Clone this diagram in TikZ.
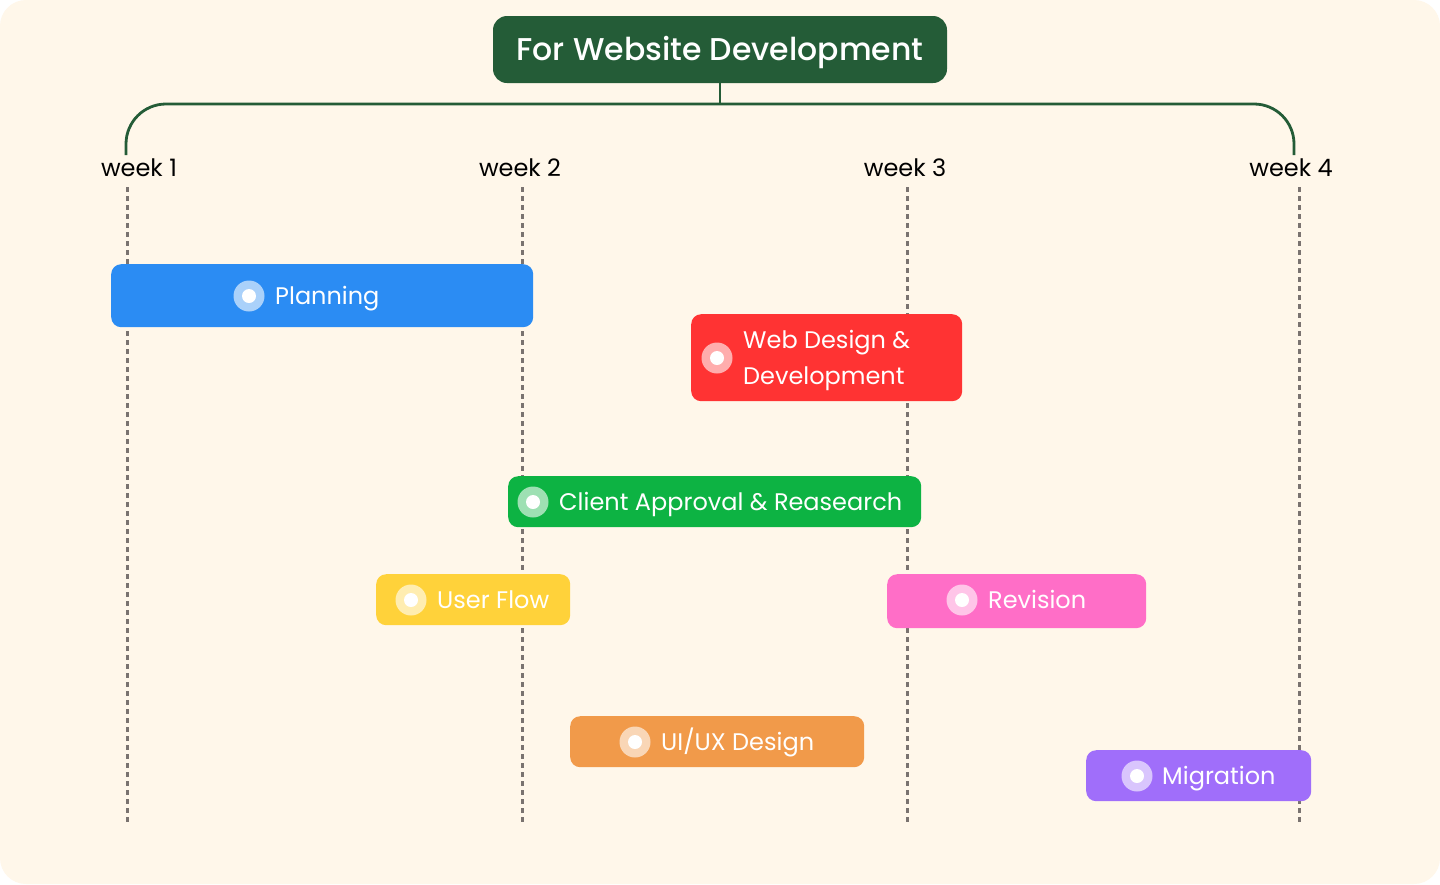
\documentclass[tikz,border=0pt]{standalone}
\usepackage{fontspec}
\setmainfont{Poppins}
\newfontfamily\titlefont{Poppins Medium}
\definecolor{bgc}{HTML}{FFF7EA}
\definecolor{dgreen}{HTML}{245C37}
\definecolor{cblue}{HTML}{2B8CF3}
\definecolor{cred}{HTML}{FF3333}
\definecolor{cgreen}{HTML}{0DB343}
\definecolor{cyellow}{HTML}{FFD23A}
\definecolor{cpink}{HTML}{FF6EC7}
\definecolor{corange}{HTML}{F19A4A}
\definecolor{cpurple}{HTML}{A06EFA}
\definecolor{dotc}{HTML}{7A7370}
\tikzset{
  bar/.style={rounded corners=10pt, inner sep=0pt, anchor=north west, draw=none},
  ico/.style={circle, fill=white, fill opacity=0.6, minimum size=31pt, inner sep=0pt},
  icodot/.style={circle, fill=white, minimum size=14pt, inner sep=0pt},
  btxt/.style={text=white, font=\fontsize{24}{36}\selectfont, anchor=west, inner sep=0pt, text height=17pt, text depth=0pt},
  btxtm/.style={text=white, font=\fontsize{24}{36}\selectfont, anchor=west, inner sep=0pt, align=left, yshift=-2pt},
  wk/.style={font=\fontsize{24}{28}\selectfont, text=black, inner sep=0pt, text height=17pt, text depth=0pt},
  vline/.style={dotc, line width=3pt, dash pattern=on 4.5pt off 4.5pt},
  brace/.style={dgreen, line width=2.8pt}
}
\begin{document}
\begin{tikzpicture}[x=1pt,y=-1pt]
\useasboundingbox (0,0) rectangle (1440,884);
\fill[white] (0,0) rectangle (1440,884);
\fill[bgc, rounded corners=26pt] (0,0) rectangle (1440,884);
% week labels
\node[wk] (w1) at (139,168) {week 1};
\node[wk] (w2) at (520,168) {week 2};
\node[wk] (w3) at (905,168) {week 3};
\node[wk] (w4) at (1291,168) {week 4};
% dotted lines
\coordinate (a1) at (127,187); \coordinate (b1) at (127,825);
\coordinate (a2) at (522,187); \coordinate (b2) at (522,825);
\coordinate (a3) at (907,187); \coordinate (b3) at (907,825);
\coordinate (a4) at (1299,187); \coordinate (b4) at (1299,825);
\draw[vline] (a1) -- (b1);
\draw[vline] (a2) -- (b2);
\draw[vline] (a3) -- (b3);
\draw[vline] (a4) -- (b4);
% title
\node[fill=dgreen, rounded corners=14pt, minimum width=454pt, minimum height=67pt, inner sep=0pt, text=white, font=\titlefont\fontsize{31.5}{36}\selectfont, text height=22.5pt, text depth=0pt] (title) at (720,49.5) {For Website Development};
% bracket
\coordinate (bl) at (126,155);
\coordinate (br) at (1294,155);
\coordinate (mid) at (720,104);
\draw[brace] (bl) -- (126,144) arc[start angle=180, end angle=90, radius=40pt] -- (1254,104) arc[start angle=90, end angle=0, radius=40pt] -- (br);
\draw[brace, line width=2pt] (title.south) -- (mid);
% bars
\node[bar, fill=cblue, minimum width=422pt, minimum height=63pt] (plan) at (111,264) {};
\node[ico] (i1) at (249,296) {}; \node[icodot] (d1) at (i1) {};
\node[btxt] (t1) at (275,296) {Planning};

\node[bar, fill=cred, minimum width=271pt, minimum height=87pt] (web) at (691,314) {};
\node[ico] (i2) at (717,358) {}; \node[icodot] (d2) at (i2) {};
\node[btxtm] (t2) at (743,358) {Web Design \&\\Development};

\node[bar, fill=cgreen, minimum width=413pt, minimum height=51pt] (client) at (508,476) {};
\node[ico] (i3) at (533,502) {}; \node[icodot] (d3) at (i3) {};
\node[btxt] (t3) at (559,502) {Client Approval \& Reasearch};

\node[bar, fill=cyellow, minimum width=194pt, minimum height=51pt] (flow) at (376,574) {};
\node[ico] (i4) at (411,600) {}; \node[icodot] (d4) at (i4) {};
\node[btxt] (t4) at (437,600) {User Flow};

\node[bar, fill=cpink, minimum width=259pt, minimum height=54pt] (rev) at (887,574) {};
\node[ico] (i5) at (962,600) {}; \node[icodot] (d5) at (i5) {};
\node[btxt] (t5) at (988,600) {Revision};

\node[bar, fill=corange, minimum width=294pt, minimum height=51pt] (uiux) at (570,716) {};
\node[ico] (i6) at (635,742) {}; \node[icodot] (d6) at (i6) {};
\node[btxt] (t6) at (661,742) {UI/UX Design};

\node[bar, fill=cpurple, minimum width=225pt, minimum height=51pt] (mig) at (1086,750) {};
\node[ico] (i7) at (1137,776) {}; \node[icodot] (d7) at (i7) {};
\node[btxt] (t7) at (1162,776) {Migration};
\end{tikzpicture}
\end{document}
